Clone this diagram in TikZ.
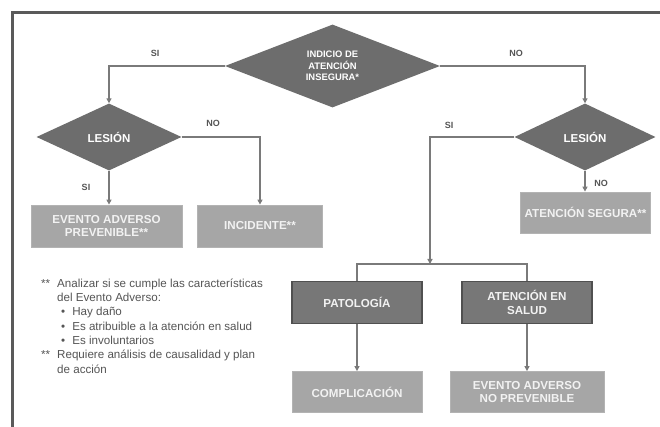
\documentclass[tikz,border=0pt]{standalone}
\usepackage{fontspec}
\setmainfont{Liberation Sans}
\usetikzlibrary{shapes.geometric,arrows.meta}
\definecolor{dia}{HTML}{6D6D6D}
\definecolor{darkbox}{HTML}{777777}
\definecolor{darkedge}{HTML}{505050}
\definecolor{lightbox}{HTML}{A6A6A6}
\definecolor{lineg}{HTML}{7A7A7A}
\definecolor{labg}{HTML}{555555}
\definecolor{frameg}{HTML}{5A5A5A}
\definecolor{boxtxt}{HTML}{F2F2F2}
\tikzset{
  decision/.style={diamond, fill=dia, inner sep=0pt, text=white, align=center,
    font=\bfseries\fontsize{11.5}{12}\selectfont},
  lightb/.style={rectangle, fill=lightbox, draw=lightbox!85!white, line width=0.8pt,
    text=boxtxt, align=center, inner sep=0pt,
    font=\bfseries\fontsize{11.6}{13.5}\selectfont},
  darkb/.style={rectangle, fill=darkbox, draw=darkedge, line width=1.6pt,
    text=boxtxt, align=center, inner sep=0pt,
    font=\bfseries\fontsize{11.6}{13.5}\selectfont},
  conn/.style={draw=lineg, line width=1.4pt},
  arr/.style={conn, -{Triangle[length=5pt,width=5pt]}},
  lab/.style={text=labg, font=\bfseries\fontsize{9}{10}\selectfont, inner sep=0pt},
}
\begin{document}
\begin{tikzpicture}[x=1pt,y=-1pt]
\useasboundingbox (0,0) rectangle (660,427);
\fill[white] (0,0) rectangle (660,427);
% frame
\draw[frameg, line width=3pt] (12,427) -- (12,12.5) -- (660,12.5);

% decisions
\node[decision, minimum width=215pt, minimum height=68pt,
      font=\bfseries\fontsize{9.4}{11.5}\selectfont] (d0) at (332.5,66)
      {INDICIO DE\\ATENCIÓN\\INSEGURA*};
\node[decision, minimum width=145pt, minimum height=67pt] (dL) at (109,137) {LESIÓN};
\node[decision, minimum width=141pt, minimum height=67pt] (dR) at (585,137) {LESIÓN};

% boxes
\node[lightb, minimum width=151pt, minimum height=42pt] (bEAP) at (106.5,226) {EVENTO ADVERSO\\PREVENIBLE**};
\node[lightb, minimum width=125pt, minimum height=42pt] (bInc) at (260,226) {INCIDENTE**};
\node[lightb, minimum width=130pt, minimum height=41pt] (bAS) at (585.5,212.5) {ATENCIÓN SEGURA**};
\node[darkb, minimum width=130pt, minimum height=42pt] (bPat) at (357,302.5) {PATOLOGÍA};
\node[darkb, minimum width=130pt, minimum height=42pt] (bAtS) at (527,302.5) {ATENCIÓN EN\\SALUD};
\node[lightb, minimum width=130pt, minimum height=41pt] (bComp) at (357,392) {COMPLICACIÓN};
\node[lightb, minimum width=154pt, minimum height=41pt] (bEANP) at (527,392) {EVENTO ADVERSO\\NO PREVENIBLE};

% connectors
\coordinate (j) at (430,264);
\draw[arr] (d0.west) -| (dL.north);
\draw[arr] (d0.east) -| (dR.north);
\draw[arr] (dL.east) -| (bInc.north);
\draw[arr] (dL.south) -- (dL.south |- bEAP.north);
\draw[arr] (dR.south) -- (dR.south |- bAS.north);
\draw[arr] (dR.west) -| (j);
\draw[conn] (bPat.north) |- (j) -| (bAtS.north);
\draw[arr] (bPat.south) -- (bComp.north);
\draw[arr] (bAtS.south) -- (bEANP.north);

% labels
\node[lab] (l1) at (155,53) {SI};
\node[lab] (l2) at (516,53) {NO};
\node[lab] (l3) at (213,123) {NO};
\node[lab] (l4) at (86,187) {SI};
\node[lab] (l5) at (449,125) {SI};
\node[lab] (l6) at (601,183) {NO};

% notes
\node[anchor=north west, inner sep=0pt, text=labg, align=left,
      font=\fontsize{11.6}{14.3}\selectfont] (notes) at (41,277)
{\begin{tabular}{@{}l@{\hspace{7pt}}l@{}}
** & Analizar si se cumple las características\\\relax
   & del Evento Adverso:\\\relax
   & \hspace{4pt}•\hspace{7pt}Hay daño\\\relax
   & \hspace{4pt}•\hspace{7pt}Es atribuible a la atención en salud\\\relax
   & \hspace{4pt}•\hspace{7pt}Es involuntarios\\\relax
** & Requiere análisis de causalidad y plan\\\relax
   & de acción
\end{tabular}};
\end{tikzpicture}
\end{document}
